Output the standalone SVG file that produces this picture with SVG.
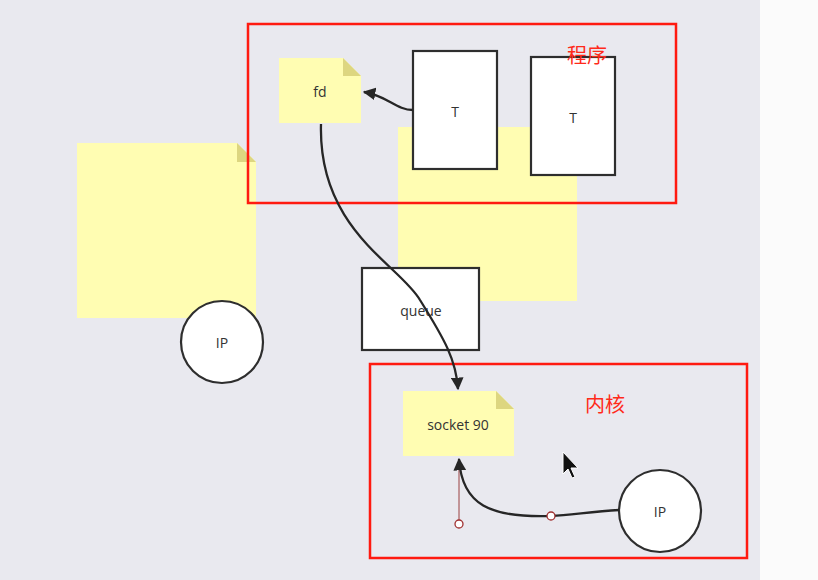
<svg xmlns="http://www.w3.org/2000/svg" width="818" height="580" viewBox="0 0 818 580">
<defs>
<style>
.note{fill:#fffdb2}
.fold{fill:#ddd680}
.box{fill:#ffffff;stroke:#2e2e2e;stroke-width:2.2}
.lbl{font-family:"Open Sans","Liberation Sans",sans-serif;font-size:14px;fill:#333;text-anchor:middle;dominant-baseline:central}
.zh{font-family:"Noto Sans CJK SC",sans-serif;font-size:20px;fill:#ff2a1a;text-anchor:middle;dominant-baseline:central}
.frame{fill:none;stroke:#ff1a10;stroke-width:2.5}
.conn{fill:none;stroke:#262626;stroke-width:2.3}
</style>
<marker id="arr" viewBox="0 0 10 10" refX="9" refY="5" markerWidth="5.5" markerHeight="5.5" orient="auto" markerUnits="strokeWidth">
<path d="M0,0 L10,5 L0,10 Z" fill="#262626"/>
</marker>
</defs>
<rect x="0" y="0" width="818" height="580" fill="#fbfbfb"/>
<rect x="0" y="0" width="760" height="580" fill="#e9e9ef"/>

<g id="note-left">
<path class="note" d="M77,143 H237 L256,162 V318 H77 Z"/>
<path class="fold" d="M237,143 L256,162 H237 Z"/>
</g>
<g id="note-big">
<rect class="note" x="398" y="127" width="179" height="174"/>
</g>
<g id="ip-left">
<ellipse class="box" cx="222" cy="342" rx="41" ry="41"/>
<text class="lbl" x="222" y="342">IP</text>
</g>
<g id="queue">
<rect class="box" x="362" y="268" width="117" height="82"/>
<text class="lbl" x="421" y="310">queue</text>
</g>
<g id="fd">
<path class="note" d="M279,58 H343 L361,76 V123 H279 Z"/>
<path class="fold" d="M343,58 L361,76 H343 Z"/>
<text class="lbl" x="320" y="91">fd</text>
</g>
<g id="t1">
<rect class="box" x="413" y="51" width="84" height="118"/>
<text class="lbl" x="455" y="111">T</text>
</g>
<g id="t2">
<rect class="box" x="531" y="57" width="84" height="118"/>
<text class="lbl" x="573" y="117">T</text>
</g>
<g id="socket">
<path class="note" d="M403,391 H496 L514,409 V456 H403 Z"/>
<path class="fold" d="M496,391 L514,409 H496 Z"/>
<text class="lbl" x="458" y="424">socket 90</text>
</g>
<g id="ip-right">
<ellipse class="box" cx="660" cy="511" rx="41" ry="41"/>
<text class="lbl" x="660" y="511">IP</text>
</g>

<g id="frames">
<rect class="frame" x="248" y="24" width="428" height="179"/>
<text class="zh" x="587" y="54">程序</text>
<rect class="frame" x="370" y="364" width="377" height="194"/>
<text class="zh" x="605" y="403">内核</text>
</g>

<g id="connectors">
<path class="conn" marker-end="url(#arr)" d="M413,110 C396,110 388,96 364,92"/>
<path class="conn" marker-end="url(#arr)" d="M321,124 C318,230 400,265 420,300 C445,340 456,360 458,389"/>
<line x1="459" y1="462" x2="459" y2="520" stroke="#9a4040" stroke-width="1"/>
<path class="conn" stroke="#2e1f20" marker-end="url(#arr)" d="M619,510 C590,512 570,515 551,516 C490,518 462,505 459,459"/>
<circle cx="459" cy="524" r="4" fill="#fff" stroke="#a03030" stroke-width="1.3"/>
<circle cx="551" cy="516" r="4" fill="#fff" stroke="#a03030" stroke-width="1.3"/>
</g>

<g id="cursor">
<path d="M563,452 L563,474 L568,469 L572,478 L575,477 L571,468 L578,468 Z" fill="#111" stroke="#fff" stroke-width="1"/>
</g>
</svg>
